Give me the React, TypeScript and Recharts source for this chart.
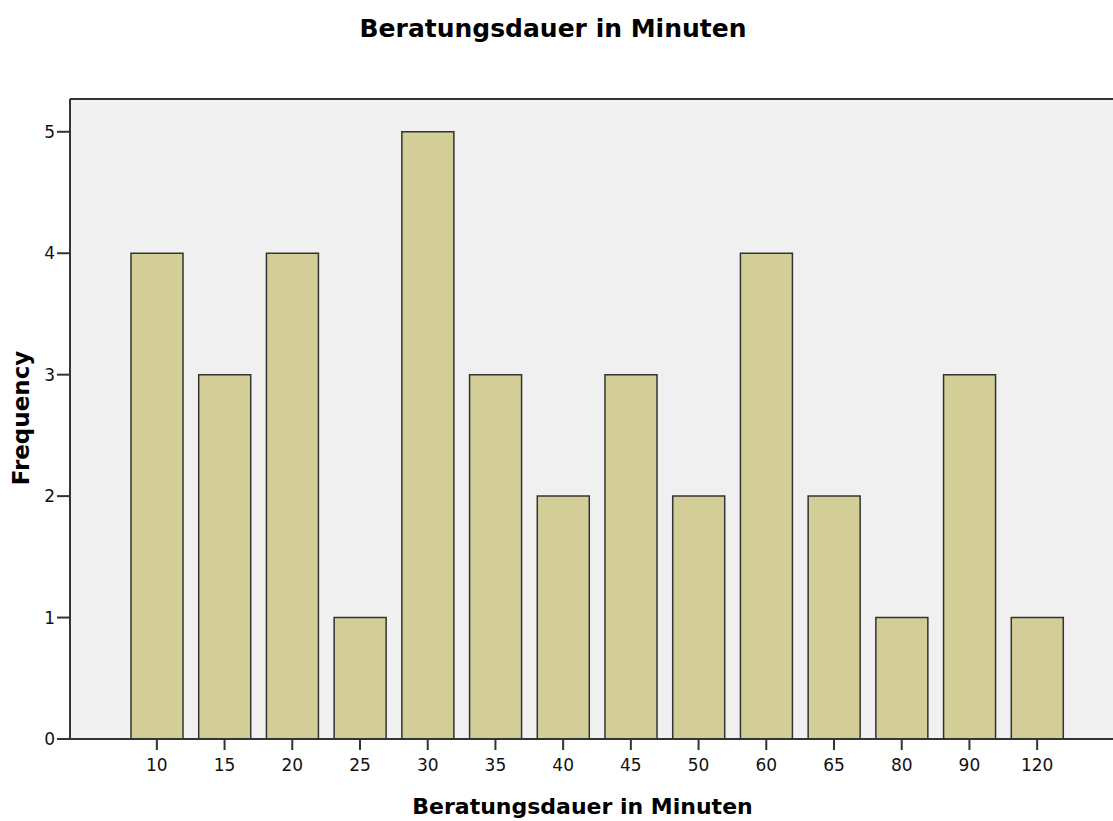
import React from 'react';
import { BarChart, Bar, XAxis, YAxis, CartesianGrid, ReferenceLine } from 'recharts';

const minutes = ['10', '15', '20', '25', '30', '35', '40', '45', '50', '60', '65', '80', '90', '120'];
const frequency = [4, 3, 4, 1, 5, 3, 2, 3, 2, 4, 2, 1, 3, 1];
const yTicks = [0, 1, 2, 3, 4, 5];
const yMax = 5.27;

const data = minutes.map((m, i) => ({ minutes: m, frequency: frequency[i] }));

const font = '"DejaVu Sans", Verdana, sans-serif';
const dark = '#333333';

export default function App() {
  return (
    <div style={{ position: 'fixed', top: 0, left: 0, width: 1113, height: 821, overflow: 'hidden', background: '#fff', fontFamily: font }}>
      {/* titel */}
      <div style={{ position: 'absolute', top: 16, left: 0, width: 1106, textAlign: 'center', fontSize: 25, lineHeight: 1, fontWeight: 'bold', color: '#000' }}>
        Beratungsdauer in Minuten
      </div>

      <BarChart width={1130} height={821} data={data} margin={{ top: 99, right: 6, left: 0, bottom: 0 }}>
        <CartesianGrid fill="#f0f0f0" horizontal={false} vertical={false} />
        <XAxis
          dataKey="minutes"
          height={82}
          padding={{ left: 53, right: 53 }}
          tickSize={11}
          tickMargin={9}
          axisLine={{ stroke: dark, strokeWidth: 2 }}
          tickLine={{ stroke: dark, strokeWidth: 2 }}
          tick={{ fill: '#111', fontSize: 17, fontFamily: font }}
        />
        <YAxis
          width={70}
          domain={[0, yMax]}
          ticks={yTicks}
          tickSize={13}
          tickMargin={2}
          axisLine={{ stroke: dark, strokeWidth: 2 }}
          tickLine={{ stroke: dark, strokeWidth: 2 }}
          tick={{ fill: '#111', fontSize: 17, fontFamily: font }}
        />
        <ReferenceLine y={yMax} stroke={dark} strokeWidth={2} />
        <Bar
          dataKey="frequency"
          fill="#d3ce97"
          stroke={dark}
          strokeWidth={1.5}
          barSize={52}
          isAnimationActive={false}
        />
      </BarChart>

      {/* achsentitel */}
      <div style={{ position: 'absolute', top: 796, left: 0, width: 1165, textAlign: 'center', fontSize: 22, lineHeight: 1, fontWeight: 'bold', color: '#000' }}>
        Beratungsdauer in Minuten
      </div>
      <div
        style={{
          position: 'absolute',
          left: 21,
          top: 418,
          transform: 'translate(-50%, -50%) rotate(-90deg)',
          fontSize: 23,
          lineHeight: 1,
          fontWeight: 'bold',
          whiteSpace: 'nowrap',
          color: '#000',
        }}
      >
        Frequency
      </div>
    </div>
  );
}
